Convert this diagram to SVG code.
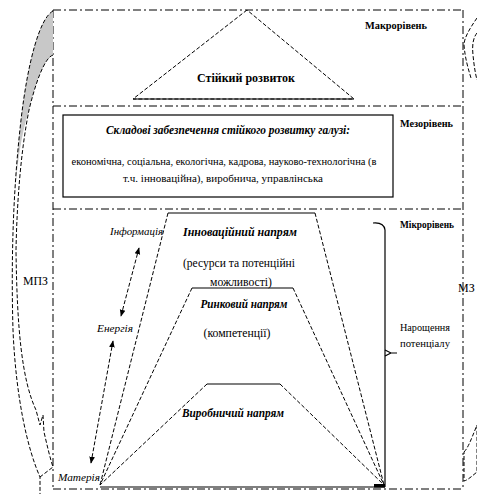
<svg xmlns="http://www.w3.org/2000/svg" width="477" height="494" viewBox="0 0 477 494">
<style>
.dd{fill:none;stroke:#000;stroke-width:1;stroke-dasharray:8 3 2 3}
.ds{fill:none;stroke:#000;stroke-width:1;stroke-dasharray:4 2}
.sl{fill:none;stroke:#000;stroke-width:1.2}
.t{font-family:"Liberation Serif","DejaVu Serif","Noto Serif",serif;fill:#000}
.b{font-weight:bold}
.bi{font-weight:bold;font-style:italic}
.i{font-style:italic}
</style>
<defs>
<marker id="ah" viewBox="0 0 10 10" refX="9" refY="5" markerWidth="7" markerHeight="7" orient="auto-start-reverse">
<path d="M0,1 L10,5 L0,9 Z" fill="#000"/>
</marker>
</defs>
<rect width="477" height="494" fill="#fff"/>

<g id="frame">
<line class="dd" x1="53" y1="10" x2="463" y2="10"/>
<line class="dd" x1="53" y1="106" x2="463" y2="106"/>
<line class="dd" x1="53" y1="209" x2="463" y2="209"/>
<line class="dd" x1="53" y1="489" x2="463" y2="489"/>
<line class="dd" x1="53" y1="10" x2="53" y2="489"/>
<line class="dd" x1="463" y1="10" x2="463" y2="489"/>
</g>

<g id="macro">
<polygon points="247,10 133,99 354,99" class="ds"/>
<line x1="133" y1="99" x2="354" y2="99" stroke="#000" stroke-width="1.2"/>
<text class="t b" x="246" y="82" font-size="13" text-anchor="middle" textLength="98" lengthAdjust="spacingAndGlyphs">Стійкий розвиток</text>
<text class="t b" x="365" y="29" font-size="11" textLength="62" lengthAdjust="spacingAndGlyphs">Макрорівень</text>
</g>

<g id="meso">
<rect x="63" y="115" width="330" height="82" fill="#fff" stroke="#000" stroke-width="1.2"/>
<text class="t bi" x="228" y="134" font-size="12.5" text-anchor="middle" textLength="244" lengthAdjust="spacingAndGlyphs">Складові забезпечення стійкого розвитку галузі:</text>
<text class="t" x="224" y="165" font-size="11" text-anchor="middle" textLength="305" lengthAdjust="spacingAndGlyphs">економічна, соціальна, екологічна, кадрова, науково-технологічна (в</text>
<text class="t" x="223" y="182" font-size="11" text-anchor="middle" textLength="200" lengthAdjust="spacingAndGlyphs">т.ч. інноваційна),  виробнича, управлінська</text>
<text class="t b" x="400" y="127" font-size="11" textLength="53" lengthAdjust="spacingAndGlyphs">Мезорівень</text>
</g>

<g id="micro">
<text class="t b" x="400" y="228" font-size="11" textLength="54" lengthAdjust="spacingAndGlyphs">Мікрорівень</text>
<text class="t" x="400" y="331" font-size="10.5" textLength="50" lengthAdjust="spacingAndGlyphs">Нарощення</text>
<text class="t" x="400" y="347" font-size="10.5" textLength="50" lengthAdjust="spacingAndGlyphs">потенціалу</text>
</g>

<g id="bracket">
<path d="M373,223 Q384,222 385,230 L385,487" class="sl" stroke-width="1.6"/>
<path d="M385,350 L391,353 L397,353 M385,356 L391,353" class="sl"/>
<rect x="374" y="484" width="11" height="3.5" fill="#000"/>
</g>

<g id="innovation">
<line x1="168" y1="213" x2="315" y2="213" class="sl"/>
<text class="t bi" x="240" y="236" font-size="12" text-anchor="middle" textLength="114" lengthAdjust="spacingAndGlyphs">Інноваційний напрям</text>
<text class="t" x="239" y="267" font-size="12" text-anchor="middle" textLength="112" lengthAdjust="spacingAndGlyphs">(ресурси та потенційні</text>
<text class="t" x="241" y="286" font-size="12" text-anchor="middle" textLength="62" lengthAdjust="spacingAndGlyphs">можливості)</text>
</g>

<g id="market">
<line x1="192" y1="288" x2="293" y2="288" class="sl"/>
<text class="t bi" x="244" y="308" font-size="12" text-anchor="middle" textLength="87" lengthAdjust="spacingAndGlyphs">Ринковий напрям</text>
<text class="t" x="237" y="337" font-size="12" text-anchor="middle" textLength="67" lengthAdjust="spacingAndGlyphs">(компетенції)</text>
</g>

<g id="production">
<line x1="207" y1="384" x2="280" y2="384" class="sl"/>
<text class="t bi" x="233" y="417" font-size="12" text-anchor="middle" textLength="102" lengthAdjust="spacingAndGlyphs">Виробничий напрям</text>
</g>

<g id="info"><text class="t i" x="110" y="235" font-size="11" textLength="53" lengthAdjust="spacingAndGlyphs">Інформація</text></g>
<g id="energy"><text class="t i" x="97" y="332" font-size="11" textLength="36" lengthAdjust="spacingAndGlyphs">Енергія</text></g>
<g id="matter"><text class="t i" x="58" y="481" font-size="11" textLength="42" lengthAdjust="spacingAndGlyphs">Матерія</text></g>
<g id="mpz-left"><text class="t" x="23" y="285" font-size="12" textLength="25" lengthAdjust="spacingAndGlyphs">МПЗ</text></g>
<g id="mpz-right"><text class="t" x="458" y="292" font-size="12">МЗ</text></g>

<g id="connectors">
<line x1="168" y1="213" x2="100" y2="485" class="ds"/>
<line x1="315" y1="213" x2="384" y2="485" class="ds"/>
<line x1="192" y1="288" x2="100" y2="485" class="ds"/>
<line x1="293" y1="288" x2="384" y2="485" class="ds"/>
<line x1="207" y1="384" x2="100" y2="485" class="ds"/>
<line x1="280" y1="384" x2="384" y2="485" class="ds"/>
<line x1="100" y1="487" x2="385" y2="487" class="sl" stroke-width="1.5"/>
<line x1="139" y1="248" x2="121" y2="316" class="ds" marker-start="url(#ah)" marker-end="url(#ah)"/>
<line x1="113" y1="341" x2="91" y2="463" class="ds" marker-start="url(#ah)" marker-end="url(#ah)"/>
<path d="M53,11 C40,18 28,60 21,120 C18,145 16,170 15,195 C17,165 21,135 29,110 C35,85 44,58 53,55 Z" fill="#c8c8c8" stroke="none"/>
<path d="M53,11 C40,18 28,60 21,120 C13,190 11,260 13,330 C16,400 28,450 40,477 L40,494" class="ds"/>
<path d="M53,55 C44,58 35,85 29,110 C21,150 17,200 16,250 C17,330 22,380 36,410 L40,425 L43,415 L44,432 C47,445 50,458 53,467 L40,477" class="ds"/>
<path d="M477,18 C470,28 464,38 464,45 C465,58 468,68 471,78" class="ds"/>
<path d="M477,33 C473,38 472,45 473,55 C474,65 475,72 477,80" class="ds"/>
<path d="M464,452 C468,448 471,440 477,425 L477,472 C472,476 468,480 464,481 Z" fill="#c8c8c8" class="ds"/>
</g>
</svg>
